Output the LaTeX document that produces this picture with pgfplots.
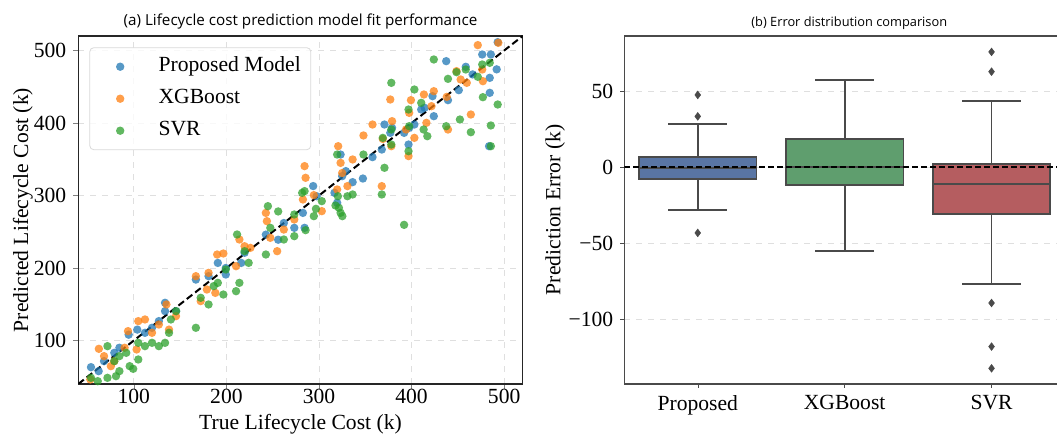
\documentclass[border=0pt]{standalone}
\usepackage{pgfplots}
\pgfplotsset{compat=1.18}
\usepackage{pgfplotstable}
\usepgfplotslibrary{statistics}
\usepackage{fontspec}
\setmainfont{Liberation Serif}
\newfontfamily\titlefont{Open Sans}

\definecolor{tabblue}{HTML}{1F77B4}
\definecolor{taborange}{HTML}{FF7F0E}
\definecolor{tabgreen}{HTML}{2CA02C}
\definecolor{boxblue}{HTML}{5975A4}
\definecolor{boxgreen}{HTML}{5F9E6E}
\definecolor{boxred}{HTML}{B55D60}
\definecolor{boxedge}{HTML}{4A4A4A}

% true cost vs predicted cost
\pgfplotstableread{
x y
53.7 63.2
62.0 57.7
67.8 71.5
78.9 83.0
84.4 90.0
94.4 108.0
103.7 115.0
112.0 110.6
119.6 117.5
127.0 126.7
133.7 152.0
133.7 140.5
145.6 140.5
167.0 184.0
180.7 188.7
190.7 207.0
199.3 200.0
199.3 191.0
216.0 207.0
219.6 221.0
242.6 246.0
255.9 239.0
262.0 262.0
273.3 255.4
282.6 276.0
284.4 255.4
293.7 313.0
297.4 299.0
316.7 303.7
319.6 290.0
323.3 356.5
325.0 326.7
329.0 333.6
336.3 318.4
347.4 323.4
357.8 352.9
367.8 363.4
370.7 397.9
377.0 386.4
378.9 393.3
391.9 386.4
396.7 370.3
397.4 393.3
403.0 397.9
410.4 418.6
414.0 421.0
422.6 437.0
424.0 409.4
437.4 485.3
439.3 431.5
451.0 445.3
458.5 477.5
465.9 467.0
476.3 494.5
483.7 368.0
484.4 441.6
484.4 462.3
485.6 494.5
493.0 511.5
491.9 474.0
}\propdata

\pgfplotstableread{
x y
53.0 46.2
62.2 88.5
67.8 78.4
75.2 64.6
78.9 71.5
90.0 90.0
93.7 112.9
103.0 87.6
104.8 126.7
112.0 129.0
119.6 110.6
127.0 122.0
135.2 149.7
138.0 115.0
145.5 133.6
167.0 188.7
172.2 154.3
178.9 170.3
180.7 193.3
188.0 165.7
190.0 218.6
196.7 220.0
210.4 202.5
214.0 239.3
219.6 230.0
225.9 227.8
242.6 276.0
243.7 264.6
247.4 241.6
254.8 223.2
262.0 253.0
273.3 266.9
282.6 294.5
284.4 340.5
285.5 324.4
294.4 300.5
303.0 278.4
319.6 308.3
320.7 368.0
323.3 345.0
325.0 331.0
330.7 312.9
336.3 349.7
348.0 382.8
357.8 397.9
367.8 312.9
368.9 378.0
377.0 432.4
378.9 402.5
378.1 368.0
394.0 391.0
396.7 354.3
397.4 414.0
399.3 431.5
403.0 379.5
413.3 439.3
416.0 400.2
421.5 423.2
424.0 443.9
438.0 436.0
439.3 391.0
448.5 471.5
453.0 460.0
459.6 455.4
464.0 411.7
471.5 507.4
476.3 473.8
477.0 457.7
484.4 521.0
493.7 510.6
}\xgbdata

\pgfplotstableread{
x y
53.7 48.5
61.0 43.9
71.5 48.5
71.5 92.2
78.9 71.5
80.7 50.8
84.4 57.7
84.4 78.4
91.8 83.0
95.5 64.6
99.3 60.9
104.8 73.8
104.8 96.8
112.0 92.2
119.6 96.8
127.0 92.2
133.7 96.8
138.0 110.6
140.0 129.0
145.6 140.5
167.0 117.5
172.2 158.9
180.7 149.7
186.3 175.0
190.7 179.5
196.7 163.4
199.3 197.9
210.4 168.0
211.5 246.2
214.0 179.5
219.6 223.2
224.0 207.1
242.6 218.6
244.8 285.3
247.4 255.4
255.9 278.0
262.0 239.3
273.3 243.9
273.3 273.8
281.8 303.7
284.4 306.0
285.5 252.2
294.4 271.5
296.7 281.6
303.0 292.2
317.8 286.2
319.6 356.5
320.4 299.0
321.5 283.0
323.3 276.1
325.2 271.5
330.7 299.0
336.3 301.4
348.0 356.5
367.8 301.4
368.9 379.5
370.7 338.2
378.1 455.4
378.1 391.0
378.1 370.3
391.9 259.5
396.7 418.6
396.7 361.1
397.4 395.6
403.0 446.2
410.4 427.8
413.0 391.0
417.0 381.8
424.0 487.6
437.4 395.6
439.3 460.9
448.5 470.1
452.2 404.8
458.5 473.8
464.0 387.3
471.5 463.7
476.3 480.7
477.0 435.6
484.4 483.0
485.6 396.6
485.6 368.0
493.0 425.5
}\svrdata

% outliers of the error boxplots
\pgfplotstableread{
err
47.4
33.3
-43.4
}\propout
\pgfplotstableread{
err
75.7
62.7
-89.5
-118.2
-132.5
}\svrout

\begin{document}
\begin{tikzpicture}
\useasboundingbox (0,0) rectangle (528.5pt,218.5pt);

\begin{axis}[
    at={(39.15pt,26.5pt)}, anchor=south west,
    scale only axis,
    width=222.2pt, height=174pt,
    xmin=40, xmax=520, ymin=40, ymax=520,
    xtick={100,200,300,400,500},
    ytick={100,200,300,400,500},
    tick pos=left,
    tick align=outside,
    major tick length=2.5pt,
    /pgf/number format/assume math mode=true,
    ticklabel style={font=\fontsize{10.8}{12}\selectfont},
    xticklabel style={yshift=3.5pt},
    label style={font=\fontsize{10.8}{12}\selectfont},
    xlabel={True Lifecycle Cost (k)},
    ylabel={Predicted Lifecycle Cost (k)},
    xlabel style={at={(axis description cs:0.5,-0.115)}, anchor=center},
    ylabel style={at={(axis description cs:-0.125,0.5)}, anchor=center},
    grid=major,
    grid style={dashed, gray!25},
    axis line style={black!85, line width=0.6pt},
    title={(a) Lifecycle cost prediction model fit performance},
    every axis title/.style={at={(axis description cs:0.5,1)}, anchor=center, yshift=7pt,
        font=\titlefont\fontsize{7.6}{9}\selectfont},
    legend style={at={(0.025,0.9675)}, anchor=north west,
        draw=gray!30, rounded corners=2pt, fill=white, fill opacity=0.8, text opacity=1,
        font=\fontsize{10.8}{12}\selectfont,
        inner xsep=3pt, inner ysep=2.5pt, row sep=2pt,
        nodes={text height=7.5pt, text depth=2.5pt, inner sep=2pt}},
    legend cell align=left,
    legend image code/.code={\path (0pt,0pt) (29pt,0pt); \draw[#1] plot coordinates {(12pt,0pt)};},
]
\addplot[only marks, mark=*, mark size=2.1pt, color=tabblue, mark options={draw opacity=0, fill opacity=0.75}] table[x=x, y=y] {\propdata};
\addlegendentry{Proposed Model}
\addplot[only marks, mark=*, mark size=2.1pt, color=taborange, mark options={draw opacity=0, fill opacity=0.75}] table[x=x, y=y] {\xgbdata};
\addlegendentry{XGBoost}
\addplot[only marks, mark=*, mark size=2.1pt, color=tabgreen, mark options={draw opacity=0, fill opacity=0.75}] table[x=x, y=y] {\svrdata};
\addlegendentry{SVR}
\addplot[black, line width=1pt, dash pattern=on 3.5pt off 1.8pt, forget plot] coordinates {(40,40) (520,520)};
\end{axis}

% right panel: the figure is cut at its right edge, so no right spine
\begin{axis}[
    at={(312.15pt,26.5pt)}, anchor=south west,
    scale only axis,
    width=216.35pt, height=174pt,
    xmin=-0.5, xmax=2.4455, ymin=-142.8, ymax=86.2,
    axis x line*=box, axis y line*=left,
    boxplot/draw direction=y,
    xtick={0,1,2},
    xticklabels={Proposed,XGBoost,SVR},
    ytick={-100,-50,0,50},
    yticklabels={−100,−50,0,50},
    xtick pos=bottom, ytick pos=left,
    tick align=outside,
    major tick length=2pt,
    ticklabel style={font=\fontsize{10.8}{12}\selectfont},
    label style={font=\fontsize{10.8}{12}\selectfont},
    ylabel={Prediction Error (k)},
    ylabel style={at={(axis description cs:-0.16,0.5)}, anchor=center},
    ymajorgrids,
    grid style={dashed, gray!25},
    axis line style={boxedge, line width=0.8pt, -},
    major tick style={boxedge},
    title={(b) Error distribution comparison},
    every axis title/.style={at={(axis description cs:0.52,1)}, anchor=center, yshift=6.35pt,
        font=\titlefont\fontsize{6.4}{8}\selectfont},
]
\addplot[boxplot prepared={lower whisker=-28.1, lower quartile=-8.1, median=-0.5, upper quartile=6.6, upper whisker=28.5, draw position=0, box extend=0.8, whisker extend=0.4},
    draw=boxedge, fill=boxblue, line width=0.9pt, mark=diamond*, mark size=1.9pt,
    mark options={fill=boxedge, draw=boxedge, line width=0.3pt}]
    table[y=err] {\propout};
\addplot[boxplot prepared={lower whisker=-55.5, lower quartile=-11.6, median=0, upper quartile=18.4, upper whisker=57.5, draw position=1, box extend=0.8, whisker extend=0.4},
    draw=boxedge, fill=boxgreen, line width=0.9pt]
    coordinates {};
\addplot[boxplot prepared={lower whisker=-77, lower quartile=-30.7, median=-11, upper quartile=2.2, upper whisker=43.4, draw position=2, box extend=0.8, whisker extend=0.4},
    draw=boxedge, fill=boxred, line width=0.9pt, mark=diamond*, mark size=1.9pt,
    mark options={fill=boxedge, draw=boxedge, line width=0.3pt}]
    table[y=err] {\svrout};
\addplot[black, line width=0.6pt, dash pattern=on 3pt off 1.5pt] coordinates {(-0.5,0) (2.4455,0)};
\end{axis}
\end{tikzpicture}
\end{document}
